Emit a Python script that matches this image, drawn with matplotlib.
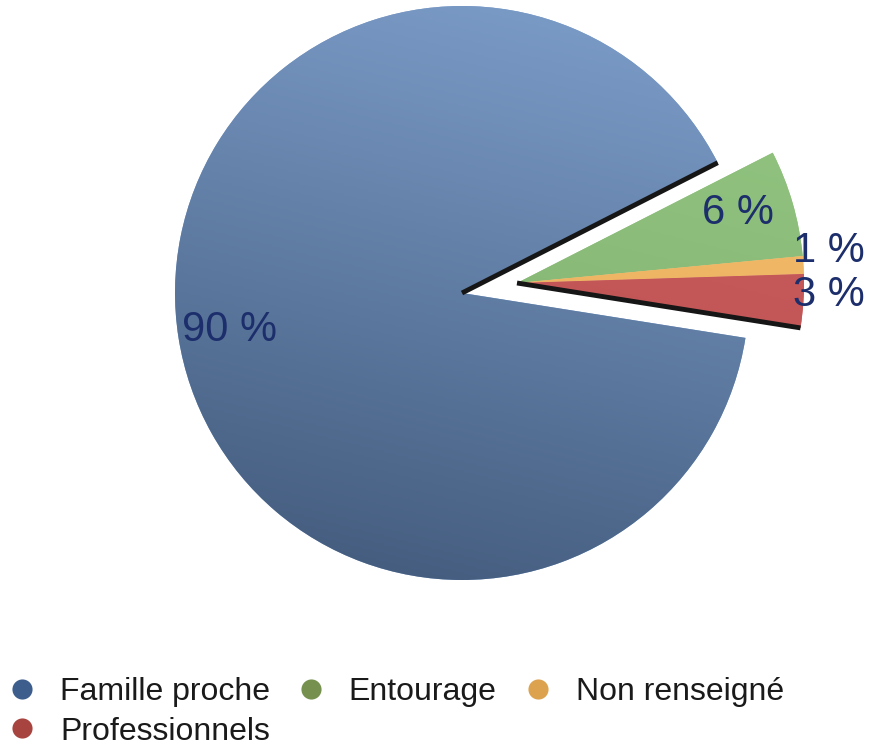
import numpy as np
import matplotlib.pyplot as plt
from matplotlib.lines import Line2D
from matplotlib.colors import LinearSegmentedColormap

plt.rcParams['font.family'] = ['Liberation Sans', 'DejaVu Sans']

# Data
categories = ['Famille proche', 'Entourage', 'Non renseigné', 'Professionnels']
shares = [90, 6, 1, 3]
pct_labels = ['90 %', '6 %', '1 %', '3 %']

# Colours: (light, dark) for the shaded wedges, flat colours for the legend dots
wedge_shades = [('#7fa0cd', '#405879'), ('#95c884', '#7eab6a'),
                ('#f3bd6c', '#e8ac5b'), ('#cd5f5f', '#b84e50')]
legend_colors = ['#3d5d8c', '#76914f', '#dca24e', '#a8443f']
label_color = '#1c2e6b'

fig = plt.figure(figsize=(8.69, 7.47), dpi=100)
ax = fig.add_axes([0, 0, 1, 1])

center = (462, 454)
radius = 287
shift = (55, 10)   # the three small wedges are pulled out together

wedges, _ = ax.pie(shares, radius=radius, center=center, startangle=-9,
                   counterclock=False, colors=[s[0] for s in wedge_shades],
                   wedgeprops=dict(linewidth=0))

for w in wedges[1:]:
    w.set_center((center[0] + shift[0], center[1] + shift[1]))

# shading: gradient clipped to every wedge
yy, xx = np.mgrid[0:1:200j, 0:1:200j]
shade = 0.8 * (1 - yy) + 0.2 * (1 - xx)
for w, (light, dark) in zip(wedges, wedge_shades):
    cmap = LinearSegmentedColormap.from_list('s', [light, dark])
    cx, cy = w.center
    im = ax.imshow(shade, cmap=cmap, origin='lower', interpolation='bicubic',
                   extent=(cx - radius, cx + radius, cy - radius, cy + radius),
                   zorder=2)
    im.set_clip_path(w)

# dark edges along the cut
for w, theta in [(wedges[0], wedges[0].theta1), (wedges[3], wedges[3].theta1)]:
    cx, cy = w.center
    t = np.deg2rad(theta)
    ax.plot([cx, cx + radius * np.cos(t)], [cy, cy + radius * np.sin(t)],
            color='#161616', lw=3.5, solid_capstyle='butt', zorder=3)

# percentage labels
label_dist = [0.82, 0.80, 1.09, 1.09]
label_nudge = [0, 6, 12, 8]
for w, txt, d, dy in zip(wedges, pct_labels, label_dist, label_nudge):
    cx, cy = w.center
    mid = np.deg2rad((w.theta1 + w.theta2) / 2)
    ax.text(cx + d * radius * np.cos(mid), cy + d * radius * np.sin(mid) + dy,
            txt, fontsize=30, color=label_color, ha='center', va='center',
            zorder=4)

ax.set_xlim(0, 869)
ax.set_ylim(0, 747)
ax.set_aspect('equal')
ax.axis('off')

# legend: row 1 has three entries, row 2 the last one
handles = [Line2D([], [], marker='o', ls='none', markersize=14.5,
                  markerfacecolor=c, markeredgecolor='none') for c in legend_colors]
order = [0, 3, 1, 2]
fig.legend([handles[i] for i in order], [categories[i] for i in order],
           ncol=3, loc='upper left', bbox_to_anchor=(12 / 869, 70 / 747),
           frameon=False, fontsize=23, handlelength=0.62, handletextpad=0.88,
           columnspacing=0.97, labelspacing=0.3, borderpad=0, borderaxespad=0,
           labelcolor='#1a1a1a')

fig.savefig('out.png', dpi=100)
